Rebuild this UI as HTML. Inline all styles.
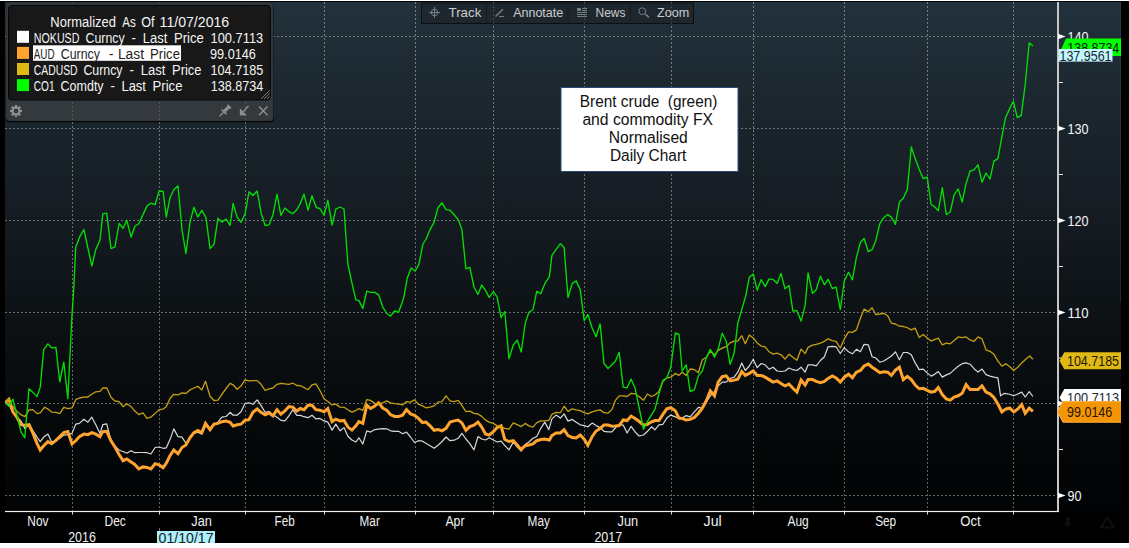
<!DOCTYPE html>
<html><head><meta charset="utf-8"><title>Chart</title>
<style>html,body{margin:0;padding:0;background:#000;overflow:hidden}body{width:1129px;height:548px;font-family:"Liberation Sans",sans-serif}</style>
</head><body>
<svg width="1129" height="548" viewBox="0 0 1129 548" font-family="Liberation Sans, sans-serif" style="display:block">
<defs>
<linearGradient id="bg" x1="0" y1="0" x2="0" y2="1">
<stop offset="0" stop-color="#22313c"/>
<stop offset="0.19" stop-color="#1c272f"/>
<stop offset="0.39" stop-color="#161d24"/>
<stop offset="0.585" stop-color="#0e1317"/>
<stop offset="0.743" stop-color="#090c0e"/>
<stop offset="0.88" stop-color="#040608"/>
<stop offset="1" stop-color="#020304"/>
</linearGradient>
</defs>
<rect x="0" y="0" width="1129" height="548" fill="#000"/>
<rect x="5" y="2" width="1116" height="510" fill="url(#bg)"/>
<rect x="1120" y="2" width="1" height="300" fill="#3a5060" opacity="0.35"/>
<rect x="0" y="0" width="1129" height="1" fill="#fff"/>
<rect x="0" y="543" width="1129" height="5" fill="#fff"/>
<g stroke="#f4fff8" stroke-opacity="0.38" stroke-width="1" stroke-dasharray="2 2" shape-rendering="crispEdges">
<line x1="72.5" y1="2" x2="72.5" y2="511"/>
<line x1="159.5" y1="2" x2="159.5" y2="511"/>
<line x1="245.5" y1="2" x2="245.5" y2="511"/>
<line x1="324.5" y1="2" x2="324.5" y2="511"/>
<line x1="415.5" y1="2" x2="415.5" y2="511"/>
<line x1="493.5" y1="2" x2="493.5" y2="511"/>
<line x1="584.5" y1="2" x2="584.5" y2="511"/>
<line x1="671.5" y1="2" x2="671.5" y2="511"/>
<line x1="753.5" y1="2" x2="753.5" y2="511"/>
<line x1="844.5" y1="2" x2="844.5" y2="511"/>
<line x1="927.5" y1="2" x2="927.5" y2="511"/>
<line x1="1013.5" y1="2" x2="1013.5" y2="511"/>
<line x1="5" y1="36.5" x2="1057" y2="36.5"/>
<line x1="5" y1="128.5" x2="1057" y2="128.5"/>
<line x1="5" y1="220.5" x2="1057" y2="220.5"/>
<line x1="5" y1="312.5" x2="1057" y2="312.5"/>
<line x1="5" y1="403.5" x2="1057" y2="403.5"/>
<line x1="5" y1="495.5" x2="1057" y2="495.5"/>
</g>
<path d="M5.5,402.8 L8.9,404.8 L12.9,412.3 L16.9,417.2 L20.9,421.0 L24.8,428.4 L29.0,424.7 L33.0,430.9 L37.0,437.1 L40.2,441.6 L43.7,437.1 L47.9,434.1 L51.6,442.1 L55.9,440.8 L59.8,438.3 L63.8,435.1 L67.8,434.6 L72.0,433.4 L75.7,424.2 L79.4,423.4 L83.9,419.2 L87.9,422.2 L91.8,417.2 L95.8,424.7 L100.0,433.4 L102.8,424.7 L106.7,423.9 L111.0,440.8 L114.9,445.8 L119.1,450.2 L123.1,451.5 L126.8,453.2 L131.1,450.7 L134.8,452.7 L138.8,452.5 L143.0,452.5 L147.0,452.7 L150.9,454.0 L155.1,447.5 L159.1,447.0 L163.1,448.3 L166.3,447.8 L170.0,439.6 L173.8,428.9 L178.0,436.6 L182.0,437.1 L185.9,443.3 L190.1,438.3 L193.9,433.4 L197.8,432.1 L201.8,434.1 L205.5,425.9 L210.0,428.4 L214.0,424.7 L217.9,422.2 L221.9,417.2 L226.1,416.5 L230.1,412.3 L233.1,415.2 L237.1,415.2 L241.0,411.8 L245.0,403.6 L249.0,402.8 L252.9,404.3 L257.2,399.9 L261.1,405.6 L265.1,412.3 L269.1,411.5 L273.0,414.7 L277.0,417.2 L280.9,420.4 L284.9,420.9 L288.9,415.9 L292.8,409.7 L296.8,415.4 L300.3,415.4 L304.0,416.7 L308.0,417.7 L312.0,415.2 L315.9,418.9 L319.9,418.4 L324.1,420.9 L327.8,422.1 L332.1,430.1 L335.8,424.1 L340.0,430.8 L344.0,427.6 L347.9,436.3 L351.9,440.0 L355.9,442.0 L358.9,437.8 L362.8,444.0 L366.8,430.8 L370.5,432.1 L374.8,429.6 L378.7,429.1 L382.7,428.6 L386.7,428.8 L390.6,430.8 L394.6,431.3 L398.6,431.3 L402.6,433.8 L406.5,432.1 L410.5,437.0 L414.5,442.5 L418.4,440.7 L422.4,441.2 L425.9,443.2 L430.1,445.7 L434.1,448.2 L438.0,445.2 L442.0,441.5 L446.0,437.0 L450.0,440.7 L454.2,440.2 L458.2,438.3 L461.9,433.3 L465.9,439.0 L469.8,443.7 L474.0,449.9 L478.0,436.5 L481.7,439.0 L485.5,440.0 L489.2,437.8 L493.4,440.0 L497.1,442.0 L501.1,441.2 L504.8,445.7 L509.0,449.9 L513.3,442.0 L517.2,447.0 L521.2,451.2 L525.2,444.5 L528.9,442.0 L532.9,438.3 L536.8,436.5 L540.8,428.3 L544.8,422.1 L548.8,429.6 L551.9,418.9 L556.1,415.1 L560.4,418.1 L564.1,413.9 L568.0,421.1 L572.3,419.4 L576.2,422.3 L580.2,424.8 L584.2,425.6 L587.9,426.8 L592.1,423.1 L596.1,425.6 L600.1,427.6 L604.0,431.3 L608.0,431.8 L612.0,431.8 L615.2,428.0 L619.2,424.3 L623.2,425.1 L627.1,433.0 L631.1,426.3 L635.1,431.8 L639.0,436.0 L643.5,435.0 L647.5,431.3 L651.5,426.8 L654.9,429.8 L658.9,424.8 L662.9,424.3 L666.8,418.1 L670.8,415.1 L675.3,416.9 L679.0,418.1 L682.2,418.1 L686.2,415.6 L690.2,416.9 L694.4,411.9 L698.4,407.4 L702.3,408.2 L706.3,402.0 L710.3,395.8 L714.5,391.3 L718.2,385.9 L722.2,382.1 L726.2,382.1 L730.1,378.4 L734.1,377.2 L737.8,372.2 L741.8,363.0 L745.3,370.5 L749.3,366.0 L753.2,359.3 L757.2,367.7 L761.2,363.5 L765.1,364.8 L769.1,369.2 L773.1,367.2 L777.1,371.0 L781.0,371.5 L785.0,371.0 L789.0,368.0 L792.9,369.7 L796.9,370.5 L801.1,367.2 L805.1,372.2 L808.1,364.8 L812.5,364.9 L816.2,365.9 L820.4,360.5 L824.4,356.7 L828.1,346.8 L832.3,346.3 L836.1,346.8 L840.3,353.5 L844.3,347.6 L848.5,351.8 L852.4,353.8 L856.4,349.3 L860.4,351.8 L864.1,344.3 L868.3,344.8 L872.1,356.7 L875.8,358.0 L879.8,362.2 L883.7,361.0 L887.7,358.5 L891.4,356.0 L895.4,351.8 L899.4,359.7 L903.3,352.5 L907.3,352.5 L911.3,354.8 L915.2,362.9 L919.2,369.6 L923.2,369.1 L927.2,372.9 L931.1,376.1 L934.9,374.1 L938.3,371.6 L942.3,377.1 L946.3,374.9 L950.2,373.4 L954.2,369.6 L958.2,366.2 L962.2,363.7 L966.1,362.9 L970.1,364.2 L974.1,368.7 L978.0,372.1 L982.0,369.1 L986.0,374.6 L990.0,376.1 L993.9,377.1 L997.9,377.8 L1000.6,395.8 L1004.4,393.3 L1008.6,394.0 L1013.8,395.8 L1017.8,394.0 L1021.7,392.1 L1025.2,397.0 L1029.2,391.6 L1032.9,396.5" fill="none" stroke="#d8d8d8" stroke-width="1.2" stroke-linejoin="round"/>
<path d="M5.5,402.3 L8.9,399.4 L12.9,411.8 L16.9,417.2 L20.9,424.7 L24.8,425.2 L29.0,424.7 L33.0,433.4 L37.0,443.3 L40.2,450.0 L43.7,445.8 L47.9,441.6 L51.6,443.8 L55.9,440.3 L59.8,436.6 L63.8,432.6 L67.8,431.6 L72.0,444.0 L75.7,440.8 L79.4,436.6 L83.9,434.1 L87.9,434.6 L91.8,432.6 L95.8,434.1 L100.0,436.6 L102.8,431.6 L106.7,431.4 L111.0,440.8 L114.9,447.0 L119.1,454.5 L123.1,460.7 L126.8,458.9 L131.1,461.9 L134.8,464.4 L138.8,468.9 L143.0,466.9 L147.0,467.4 L150.9,468.9 L155.1,463.7 L159.1,464.9 L163.1,467.6 L166.3,463.2 L170.0,455.7 L173.8,450.0 L178.0,453.7 L182.0,447.5 L185.9,445.0 L190.1,437.6 L193.9,432.6 L197.8,430.4 L201.8,432.6 L205.5,423.4 L210.0,429.6 L214.0,424.2 L217.9,423.4 L221.9,421.7 L226.1,421.0 L230.1,422.2 L233.1,425.9 L237.1,424.7 L241.0,424.2 L245.0,420.2 L249.0,419.7 L252.9,412.3 L257.2,409.0 L261.1,412.3 L265.1,414.8 L269.1,413.0 L273.0,415.9 L277.0,409.7 L280.9,414.2 L284.9,411.0 L288.9,406.5 L292.8,407.2 L296.8,411.0 L300.3,408.5 L304.0,409.7 L308.0,405.2 L312.0,405.2 L315.9,409.7 L319.9,410.2 L324.1,411.7 L327.8,408.5 L332.1,421.6 L335.8,419.1 L340.0,420.9 L344.0,420.4 L347.9,427.1 L351.9,430.1 L355.9,425.9 L358.9,421.6 L362.8,423.4 L366.8,405.2 L370.5,408.5 L374.8,406.0 L378.7,402.8 L382.7,408.0 L386.7,410.2 L390.6,414.7 L394.6,416.4 L398.6,416.4 L402.6,415.2 L406.5,409.7 L410.5,413.9 L414.5,415.4 L418.4,418.4 L422.4,422.6 L425.9,422.1 L430.1,425.9 L434.1,430.3 L438.0,429.6 L442.0,430.8 L446.0,428.3 L450.0,422.1 L454.2,420.9 L458.2,420.1 L461.9,422.9 L465.9,430.3 L469.8,426.6 L474.0,425.1 L478.0,422.1 L481.7,427.1 L485.5,434.0 L489.2,435.0 L493.4,431.6 L497.1,427.6 L501.1,425.9 L504.8,439.5 L509.0,441.5 L513.3,440.7 L517.2,445.0 L521.2,449.4 L525.2,445.7 L528.9,445.0 L532.9,444.0 L536.8,440.7 L540.8,439.5 L544.8,439.0 L545.5,439.2 L549.4,440.0 L551.9,435.5 L556.1,433.0 L560.4,433.0 L564.1,429.8 L568.0,435.5 L572.3,437.5 L576.2,438.0 L580.2,435.0 L584.2,439.2 L587.9,445.4 L592.1,436.7 L596.1,431.0 L600.1,428.5 L604.0,425.1 L608.0,425.1 L612.0,426.3 L615.2,426.1 L619.2,425.6 L623.2,419.9 L627.1,420.6 L631.1,416.1 L635.1,418.6 L639.0,421.3 L643.5,425.1 L647.5,424.3 L651.5,421.8 L654.9,420.6 L658.9,420.6 L662.9,414.4 L666.8,408.9 L670.8,407.7 L675.3,410.7 L679.0,418.1 L682.2,418.6 L686.2,419.9 L690.2,419.4 L694.4,417.4 L698.4,413.2 L702.3,408.2 L706.3,400.7 L710.3,390.8 L714.5,395.8 L718.2,382.1 L722.2,376.7 L726.2,375.9 L730.1,380.9 L734.1,380.1 L737.8,379.1 L741.8,371.5 L745.3,375.4 L749.3,373.4 L753.2,371.0 L757.2,375.4 L761.2,375.4 L765.1,377.2 L769.1,379.6 L773.1,382.1 L777.1,380.9 L781.0,383.4 L785.0,385.9 L789.0,384.1 L792.9,388.3 L796.9,392.1 L801.1,380.1 L805.1,385.1 L808.1,379.6 L812.5,379.6 L816.2,381.4 L820.4,382.6 L824.4,381.4 L828.1,378.4 L832.3,375.9 L836.1,377.9 L840.3,382.1 L844.3,377.2 L848.5,374.2 L852.4,377.7 L856.4,372.2 L860.4,370.5 L864.1,366.0 L868.3,364.0 L872.1,367.2 L875.8,369.7 L879.8,372.7 L883.7,371.7 L887.7,372.2 L891.4,375.4 L895.4,370.2 L899.4,367.2 L903.3,379.6 L907.3,376.4 L911.3,379.6 L915.2,385.1 L919.2,388.8 L923.2,388.3 L927.2,390.3 L931.1,392.1 L934.9,391.3 L938.3,387.6 L942.3,394.5 L946.3,399.0 L950.2,400.2 L954.2,397.0 L958.2,395.8 L962.2,393.3 L966.1,384.6 L970.1,389.6 L974.1,389.6 L978.0,389.6 L982.0,385.9 L986.0,392.1 L990.0,393.8 L993.9,397.5 L997.9,404.0 L1001.9,411.9 L1005.9,408.9 L1009.8,408.2 L1013.8,411.9 L1017.8,408.9 L1021.7,404.5 L1025.2,413.2 L1029.2,408.2 L1032.9,411.4" fill="none" stroke="#ffa42e" stroke-width="3" stroke-linejoin="miter" stroke-miterlimit="3" stroke-linecap="butt"/>
<path d="M5.5,402.9 L8.9,398.0 L11.2,404.2 L14.9,409.1 L19.9,414.1 L24.8,416.6 L29.0,409.9 L33.0,409.6 L37.0,413.6 L40.2,412.9 L44.7,407.2 L47.9,409.1 L51.6,412.1 L55.9,412.4 L59.8,413.6 L63.8,407.4 L67.8,408.7 L72.0,407.9 L75.7,399.7 L79.4,398.0 L83.9,397.2 L87.9,397.0 L91.8,394.3 L95.8,391.8 L100.0,391.3 L102.8,388.0 L106.7,387.8 L111.0,397.2 L114.9,401.0 L119.1,401.7 L123.1,406.7 L126.8,403.7 L131.1,406.7 L134.8,411.1 L138.8,414.6 L143.0,412.9 L147.0,418.3 L150.9,417.1 L155.1,413.4 L159.1,409.6 L163.1,409.1 L166.3,406.7 L170.0,398.5 L173.8,394.3 L178.0,394.8 L182.0,392.8 L185.9,393.5 L190.1,389.8 L193.9,388.0 L197.8,386.3 L201.8,390.0 L205.5,381.3 L210.0,396.2 L214.0,400.5 L217.9,400.2 L221.9,394.3 L226.1,388.5 L230.1,383.3 L233.1,384.8 L237.1,389.3 L241.0,386.1 L245.0,379.9 L249.0,380.9 L252.9,380.6 L257.2,380.6 L261.1,384.3 L265.1,390.5 L269.1,388.8 L273.0,388.0 L277.0,384.3 L280.9,383.3 L284.9,383.8 L288.9,384.3 L292.8,383.0 L296.8,385.5 L300.3,385.7 L304.0,387.5 L308.0,389.7 L312.0,384.8 L315.9,383.8 L319.9,390.5 L324.1,398.7 L327.8,401.6 L332.1,404.9 L335.8,404.1 L340.0,407.1 L344.0,407.3 L347.9,409.8 L351.9,412.1 L355.9,410.3 L358.9,408.6 L362.8,410.3 L366.8,399.6 L370.5,400.4 L374.8,403.4 L378.7,403.6 L382.7,402.9 L386.7,400.9 L390.6,402.9 L394.6,403.6 L398.6,404.1 L402.6,404.9 L406.5,401.6 L410.5,402.1 L414.5,399.9 L418.4,404.1 L422.4,405.9 L425.9,407.8 L430.1,407.1 L434.1,405.9 L438.0,402.1 L442.0,401.6 L446.0,395.9 L450.0,400.9 L454.2,401.6 L458.2,400.4 L461.9,405.4 L465.9,411.6 L469.8,411.1 L474.0,413.3 L478.0,414.0 L481.7,416.4 L485.5,420.1 L489.2,422.1 L493.4,423.4 L497.1,425.9 L501.1,426.6 L504.8,428.3 L509.0,429.1 L513.3,422.9 L517.2,424.6 L521.2,426.6 L525.2,423.4 L528.9,425.9 L532.9,427.1 L536.8,422.6 L540.8,420.9 L544.8,420.9 L548.8,420.4 L551.9,414.4 L556.1,412.4 L560.4,412.7 L564.1,406.2 L568.0,411.4 L572.3,408.9 L576.2,409.9 L580.2,410.7 L584.2,412.7 L587.9,413.9 L592.1,411.9 L596.1,410.7 L600.1,409.9 L604.0,412.7 L608.0,413.2 L612.0,409.4 L615.2,400.7 L619.2,395.8 L623.2,395.8 L627.1,396.5 L631.1,393.3 L635.1,393.8 L639.0,396.5 L643.5,400.2 L647.5,394.0 L651.5,396.5 L654.9,395.0 L658.9,391.6 L662.9,381.6 L666.8,377.9 L670.8,377.2 L675.3,373.4 L679.0,375.4 L682.2,372.2 L686.2,375.4 L690.2,369.0 L694.4,369.7 L698.4,372.7 L702.3,359.8 L706.3,357.3 L710.3,351.1 L714.5,354.8 L718.2,350.4 L722.2,348.1 L726.2,346.6 L730.1,342.9 L734.1,341.2 L737.8,341.2 L741.8,335.7 L745.3,343.7 L749.3,335.0 L753.2,337.9 L757.2,342.9 L761.2,346.1 L765.1,346.9 L769.1,351.8 L773.1,354.1 L777.1,353.1 L781.0,354.8 L785.0,359.0 L789.0,354.3 L792.9,357.3 L796.9,360.3 L801.1,349.1 L805.1,353.6 L808.1,347.4 L812.5,345.1 L816.2,344.3 L820.4,343.1 L824.4,341.3 L828.1,338.9 L832.3,340.6 L836.1,341.3 L840.3,348.0 L844.3,338.9 L848.5,331.9 L852.4,332.4 L856.4,329.9 L860.4,318.3 L864.1,309.1 L868.3,311.6 L872.1,307.8 L875.8,314.5 L879.8,314.0 L883.7,313.3 L887.7,315.8 L891.4,323.2 L895.4,324.0 L899.4,326.2 L903.3,326.5 L907.3,327.7 L911.3,329.9 L915.2,328.2 L919.2,337.6 L923.2,334.4 L927.2,338.1 L931.1,341.1 L934.9,339.4 L938.3,338.1 L942.3,344.8 L946.3,343.1 L950.2,343.8 L954.2,340.6 L958.2,336.9 L962.2,337.6 L966.1,336.9 L970.1,339.9 L974.1,341.3 L978.0,336.9 L982.0,338.9 L986.0,349.8 L990.0,351.3 L993.9,354.3 L997.9,361.2 L1001.9,366.2 L1005.9,363.7 L1009.8,366.7 L1013.8,370.4 L1017.8,367.2 L1021.7,362.9 L1025.7,359.2 L1029.7,356.0 L1032.9,359.2" fill="none" stroke="#c4a012" stroke-width="1.3" stroke-linejoin="round"/>
<path d="M5.5,402.9 L8.9,406.2 L12.9,399.2 L16.9,414.8 L20.9,431.6 L24.8,437.8 L29.0,388.7 L33.0,392.4 L37.0,396.6 L40.2,387.4 L43.7,349.6 L47.9,343.9 L51.6,347.8 L55.9,347.3 L59.8,381.8 L63.8,362.2 L67.8,398.7 L72.0,314.8 L73.7,290.0 L75.7,247.4 L79.4,237.4 L83.9,229.5 L91.8,266.2 L95.8,249.4 L100.0,239.9 L102.8,213.9 L106.7,213.1 L111.0,248.6 L114.9,246.9 L119.1,223.5 L123.1,228.3 L126.8,220.3 L131.1,237.2 L134.8,226.3 L138.8,223.8 L147.0,205.9 L150.9,203.2 L155.1,204.7 L159.1,191.0 L163.1,191.5 L166.3,217.1 L170.0,197.7 L173.8,189.8 L178.0,185.8 L182.0,229.5 L185.9,253.3 L190.1,221.6 L193.9,207.2 L197.8,217.1 L201.8,210.4 L206.0,217.6 L210.0,248.6 L214.0,244.4 L217.9,218.3 L221.9,222.1 L226.1,219.1 L230.1,225.3 L233.1,203.4 L237.1,217.1 L241.0,222.3 L245.0,214.1 L249.0,191.8 L252.9,195.5 L257.2,191.0 L261.1,212.9 L265.1,225.5 L269.1,224.8 L273.0,214.7 L277.0,194.1 L280.9,215.4 L284.9,208.0 L288.9,211.7 L292.8,213.7 L296.8,209.7 L300.3,203.5 L304.0,194.1 L308.0,210.2 L312.0,195.8 L316.4,207.7 L319.9,208.5 L324.1,215.4 L327.8,200.3 L332.1,225.1 L335.8,209.2 L340.0,207.0 L344.0,209.0 L347.9,264.3 L351.9,282.9 L355.9,299.9 L358.9,300.6 L362.8,308.5 L366.8,291.2 L370.5,292.4 L374.8,292.4 L378.7,294.9 L382.7,306.8 L386.7,313.5 L390.6,316.0 L394.6,311.0 L398.6,312.3 L402.6,301.1 L404.0,296.6 L407.3,278.0 L411.2,268.0 L415.2,271.0 L418.9,264.3 L422.9,244.0 L425.9,239.5 L430.1,229.6 L434.1,222.1 L438.0,207.7 L442.0,202.8 L446.0,209.7 L450.0,210.2 L454.2,214.7 L458.2,219.6 L461.9,229.6 L465.9,268.8 L469.8,267.3 L474.0,287.0 L478.0,294.4 L481.7,285.0 L485.5,290.4 L489.2,297.4 L493.4,291.7 L497.1,296.9 L501.1,317.7 L504.8,311.5 L509.0,358.9 L513.3,345.0 L517.2,340.1 L521.2,352.0 L525.2,323.4 L528.9,312.3 L532.9,309.8 L536.8,291.2 L540.8,293.7 L544.8,283.7 L549.4,276.7 L551.9,255.3 L556.1,249.4 L560.4,243.7 L564.1,247.4 L568.0,297.5 L572.3,283.4 L576.2,280.9 L580.2,289.6 L584.2,320.6 L587.9,314.4 L592.1,328.0 L596.1,336.7 L600.1,323.8 L604.0,363.5 L608.0,368.5 L615.2,361.5 L619.2,352.3 L623.2,387.1 L627.1,387.8 L631.1,379.1 L635.1,388.3 L639.0,407.0 L643.5,429.3 L647.5,421.3 L654.9,409.4 L658.9,394.0 L662.9,380.4 L666.8,377.9 L670.8,367.2 L675.3,333.0 L679.0,334.5 L682.2,371.0 L686.2,364.8 L690.2,391.6 L694.4,389.6 L698.4,375.9 L702.3,371.0 L706.3,357.8 L710.3,349.4 L714.5,357.3 L718.2,349.1 L722.2,333.2 L726.2,341.2 L730.1,364.3 L734.1,353.6 L737.8,323.1 L741.8,309.4 L745.8,295.8 L749.3,277.2 L753.2,273.9 L757.2,290.3 L761.2,279.6 L765.1,286.6 L769.1,278.9 L773.1,279.6 L777.1,283.4 L781.0,273.4 L785.0,288.8 L789.0,285.4 L792.9,311.2 L796.9,310.7 L801.1,321.1 L805.1,305.7 L808.1,272.9 L812.5,293.4 L816.2,289.7 L820.4,276.1 L824.4,284.8 L828.1,279.3 L832.3,288.5 L836.1,287.2 L840.3,309.6 L844.3,281.0 L848.5,272.3 L852.4,279.8 L856.4,257.4 L860.4,242.5 L864.1,238.5 L868.3,251.7 L872.1,249.7 L875.8,240.5 L879.8,223.7 L883.7,217.7 L887.7,214.5 L891.4,217.4 L895.4,224.4 L899.4,202.1 L903.3,198.3 L907.3,189.6 L911.3,147.0 L915.2,158.6 L919.2,169.3 L923.2,178.5 L927.2,177.2 L931.1,204.5 L934.9,207.0 L938.3,210.7 L942.3,187.7 L946.3,214.5 L950.2,212.0 L954.2,194.6 L958.2,188.9 L962.2,202.1 L966.1,183.4 L970.1,171.0 L974.1,169.8 L978.0,164.8 L982.0,182.2 L986.0,173.0 L990.0,179.0 L993.9,161.1 L997.9,158.6 L1001.9,136.7 L1005.4,118.0 L1009.3,109.4 L1013.3,101.2 L1017.3,117.6 L1021.2,115.6 L1025.2,84.5 L1029.2,42.8 L1032.9,46.1" fill="none" stroke="#04de04" stroke-width="1.35" stroke-linejoin="round"/>
<rect x="1057" y="2" width="2" height="510" fill="#c6c6c6"/>
<rect x="5" y="510.9" width="1054" height="1.2" fill="#f0f0f0"/>
<rect x="72.0" y="511" width="1" height="3.6" fill="#e0e0e0"/>
<rect x="159.0" y="511" width="1" height="3.6" fill="#e0e0e0"/>
<rect x="245.0" y="511" width="1" height="3.6" fill="#e0e0e0"/>
<rect x="324.0" y="511" width="1" height="3.6" fill="#e0e0e0"/>
<rect x="415.0" y="511" width="1" height="3.6" fill="#e0e0e0"/>
<rect x="493.0" y="511" width="1" height="3.6" fill="#e0e0e0"/>
<rect x="584.0" y="511" width="1" height="3.6" fill="#e0e0e0"/>
<rect x="671.0" y="511" width="1" height="3.6" fill="#e0e0e0"/>
<rect x="753.0" y="511" width="1" height="3.6" fill="#e0e0e0"/>
<rect x="844.0" y="511" width="1" height="3.6" fill="#e0e0e0"/>
<rect x="927.0" y="511" width="1" height="3.6" fill="#e0e0e0"/>
<rect x="1013.0" y="511" width="1" height="3.6" fill="#e0e0e0"/>
<path d="M1058,33.8 L1065.6,36.5 L1058,39.2 Z" fill="#fff"/>
<text x="1067.6" y="42.2" font-size="14.2" fill="#f4f4f4" textLength="21" lengthAdjust="spacingAndGlyphs" >140</text>
<path d="M1058,125.8 L1065.6,128.5 L1058,131.2 Z" fill="#fff"/>
<text x="1067.6" y="134.2" font-size="14.2" fill="#f4f4f4" textLength="21" lengthAdjust="spacingAndGlyphs" >130</text>
<path d="M1058,217.8 L1065.6,220.5 L1058,223.2 Z" fill="#fff"/>
<text x="1067.6" y="226.2" font-size="14.2" fill="#f4f4f4" textLength="21" lengthAdjust="spacingAndGlyphs" >120</text>
<path d="M1058,309.8 L1065.6,312.5 L1058,315.2 Z" fill="#fff"/>
<text x="1067.6" y="318.2" font-size="14.2" fill="#f4f4f4" textLength="21" lengthAdjust="spacingAndGlyphs" >110</text>
<path d="M1058,400.8 L1065.6,403.5 L1058,406.2 Z" fill="#fff"/>
<path d="M1058,492.8 L1065.6,495.5 L1058,498.2 Z" fill="#fff"/>
<text x="1067.6" y="501.2" font-size="14.2" fill="#f4f4f4" textLength="14" lengthAdjust="spacingAndGlyphs" >90</text>
<rect x="1059" y="82.0" width="4" height="1" fill="#ddd"/>
<rect x="1059" y="174.0" width="4" height="1" fill="#ddd"/>
<rect x="1059" y="266.0" width="4" height="1" fill="#ddd"/>
<rect x="1059" y="357.5" width="4" height="1" fill="#ddd"/>
<rect x="1059" y="449.0" width="4" height="1" fill="#ddd"/>
<g fill="#0f0f0f"><rect x="1066" y="517" width="3.4" height="6.5"/><path d="M1063.6,523 L1071.6,523 L1067.6,528 Z"/></g>
<g fill="none" stroke="#0f0f0f" stroke-width="2.2" stroke-linejoin="round"><path d="M1107.5,517.5 L1114,527.5 L1101,527.5 Z"/></g>
<text x="27.3" y="526.3" font-size="14" fill="#f0f0f0" textLength="21.2" lengthAdjust="spacingAndGlyphs" >Nov</text>
<text x="104.5" y="526.3" font-size="14" fill="#f0f0f0" textLength="21.3" lengthAdjust="spacingAndGlyphs" >Dec</text>
<text x="191.3" y="526.3" font-size="14" fill="#f0f0f0" textLength="20.6" lengthAdjust="spacingAndGlyphs" >Jan</text>
<text x="274.6" y="526.3" font-size="14" fill="#f0f0f0" textLength="20.2" lengthAdjust="spacingAndGlyphs" >Feb</text>
<text x="359.6" y="526.3" font-size="14" fill="#f0f0f0" textLength="20.2" lengthAdjust="spacingAndGlyphs" >Mar</text>
<text x="445.4" y="526.3" font-size="14" fill="#f0f0f0" textLength="19.1" lengthAdjust="spacingAndGlyphs" >Apr</text>
<text x="527.5" y="526.3" font-size="14" fill="#f0f0f0" textLength="22.4" lengthAdjust="spacingAndGlyphs" >May</text>
<text x="617.5" y="526.3" font-size="14" fill="#f0f0f0" textLength="20.6" lengthAdjust="spacingAndGlyphs" >Jun</text>
<text x="703.6" y="526.3" font-size="14" fill="#f0f0f0" textLength="18.1" lengthAdjust="spacingAndGlyphs" >Jul</text>
<text x="787.5" y="526.3" font-size="14" fill="#f0f0f0" textLength="21.2" lengthAdjust="spacingAndGlyphs" >Aug</text>
<text x="875.2" y="526.3" font-size="14" fill="#f0f0f0" textLength="21" lengthAdjust="spacingAndGlyphs" >Sep</text>
<text x="960.3" y="526.3" font-size="14" fill="#f0f0f0" textLength="20.4" lengthAdjust="spacingAndGlyphs" >Oct</text>
<text x="68.2" y="542.4" font-size="14.4" fill="#f0f0f0" textLength="27.7" lengthAdjust="spacingAndGlyphs" >2016</text>
<text x="594.4" y="542.4" font-size="14.4" fill="#f0f0f0" textLength="27.9" lengthAdjust="spacingAndGlyphs" >2017</text>
<rect x="159" y="528" width="1" height="3" fill="#666"/>
<rect x="157" y="531" width="58" height="12" fill="#aef0fa"/>
<text x="158.6" y="543.2" font-size="14.2" fill="#182028" textLength="55" lengthAdjust="spacingAndGlyphs" >01/10/17</text>
<rect x="0" y="543" width="1129" height="5" fill="#fff"/>
<path d="M1058,56 L1066,38.5 L1121,38.5 L1121,56 Z" fill="#00ff00"/>
<text x="1067.3" y="52.8" font-size="14.5" fill="#062006" textLength="52" lengthAdjust="spacingAndGlyphs" >138.8734</text>
<rect x="1058.5" y="49" width="54" height="12.6" fill="#c4f6ff"/>
<text x="1059.5" y="60.5" font-size="14.5" fill="#20282c" textLength="52" lengthAdjust="spacingAndGlyphs" >137.9561</text>
<path d="M1059.5,360.7 L1064.3,352.3 L1121,352.3 L1121,369.2 L1064.3,369.2 Z" fill="#e0b915"/>
<text x="1067" y="366" font-size="14.5" fill="#1c1800" textLength="52" lengthAdjust="spacingAndGlyphs" >104.7185</text>
<path d="M1059.5,397.5 L1064.3,388.9 L1121,388.9 L1121,406 L1064.3,406 Z" fill="#ffffff"/>
<text x="1067" y="402.9" font-size="14.5" fill="#202830" textLength="52" lengthAdjust="spacingAndGlyphs" >100.7113</text>
<path d="M1057.2,411.8 L1062.7,401.1 L1121,401.1 L1121,422.6 L1062.7,422.6 Z" fill="#f49508"/>
<path d="M1057.7,411.8 L1063,401.6 L1121,401.6 M1057.7,411.8 L1063,422.1 L1121,422.1" fill="none" stroke="#ffb040" stroke-width="1"/>
<text x="1067" y="417.2" font-size="14.5" fill="#241400" textLength="45.3" lengthAdjust="spacingAndGlyphs" >99.0146</text>
<rect x="421.5" y="3" width="272" height="20.5" fill="#1f272e" stroke="#0c1013" stroke-width="1"/>
<rect x="486.0" y="3.5" width="1" height="19.5" fill="#151b20"/>
<rect x="567.5" y="3.5" width="1" height="19.5" fill="#151b20"/>
<rect x="630.0" y="3.5" width="1" height="19.5" fill="#151b20"/>
<g stroke="#979a98" stroke-width="1" stroke-dasharray="2 2" shape-rendering="crispEdges" opacity="0.3"><line x1="493.5" y1="2" x2="493.5" y2="24"/><line x1="584.5" y1="2" x2="584.5" y2="24"/><line x1="671.5" y1="2" x2="671.5" y2="24"/></g>
<text x="448.5" y="16.7" font-size="13" fill="#c9ccd0" textLength="32.8" lengthAdjust="spacingAndGlyphs" >Track</text>
<text x="513.2" y="16.7" font-size="13" fill="#c9ccd0" textLength="50" lengthAdjust="spacingAndGlyphs" >Annotate</text>
<text x="595.5" y="16.7" font-size="13" fill="#c9ccd0" textLength="29.9" lengthAdjust="spacingAndGlyphs" >News</text>
<text x="657" y="16.7" font-size="13" fill="#c9ccd0" textLength="32.2" lengthAdjust="spacingAndGlyphs" >Zoom</text>
<g stroke="#767e85" stroke-width="1" fill="none"><circle cx="434.5" cy="12.5" r="3.2"/><line x1="429" y1="12.5" x2="440" y2="12.5"/><line x1="434.5" y1="7" x2="434.5" y2="18"/></g>
<g stroke="#767e85" fill="none"><line x1="495.5" y1="16.5" x2="503" y2="9.3" stroke-width="1.5"/><line x1="499" y1="16.5" x2="504" y2="16.5" stroke-width="1"/></g>
<g fill="#767e85" shape-rendering="crispEdges"><rect x="577" y="8" width="4" height="3"/><rect x="582" y="8" width="5" height="1"/><rect x="582" y="10" width="5" height="1"/><rect x="577" y="12" width="10" height="1"/><rect x="577" y="14" width="10" height="1"/><rect x="577" y="16" width="10" height="1"/></g>
<g stroke="#767e85" fill="none"><circle cx="642.3" cy="11.2" r="3.4" stroke-width="1"/><line x1="645.3" y1="14.2" x2="649" y2="17.3" stroke-width="1.7"/></g>
<rect x="561" y="87.5" width="177" height="84" fill="#fff" stroke="#2c4a78" stroke-width="1"/>
<text x="579.8" y="106.9" font-size="16" fill="#101010" textLength="137.6" lengthAdjust="spacingAndGlyphs" >Brent crude &#160;(green)</text>
<text x="582.4" y="124.6" font-size="16" fill="#101010" textLength="130.6" lengthAdjust="spacingAndGlyphs" >and commodity FX</text>
<text x="608.8" y="143" font-size="16" fill="#101010" textLength="79" lengthAdjust="spacingAndGlyphs" >Normalised</text>
<text x="609.9" y="161" font-size="16" fill="#101010" textLength="76.5" lengthAdjust="spacingAndGlyphs" >Daily Chart</text>
<rect x="6" y="3" width="268" height="119.3" rx="3.5" fill="#000" opacity="0.8"/>
<rect x="6.5" y="3" width="266.5" height="117.5" rx="3" fill="#34393d" stroke="#2c3439" stroke-width="1"/>
<rect x="8.5" y="5.5" width="262" height="94.5" rx="3" fill="#181818" stroke="#060606" stroke-width="1"/>
<g stroke="#979a98" stroke-width="1" stroke-dasharray="2 2" shape-rendering="crispEdges" opacity="0.3"><line x1="72.5" y1="102" x2="72.5" y2="120"/><line x1="159.5" y1="102" x2="159.5" y2="120"/><line x1="245.5" y1="102" x2="245.5" y2="120"/></g>
<text x="50.3" y="26.6" font-size="14" fill="#f4f4f4" textLength="65.7" lengthAdjust="spacingAndGlyphs" >Normalized</text>
<text x="122.3" y="26.6" font-size="14" fill="#f4f4f4" textLength="13.5" lengthAdjust="spacingAndGlyphs" >As</text>
<text x="141.3" y="26.6" font-size="14" fill="#f4f4f4" textLength="13.3" lengthAdjust="spacingAndGlyphs" >Of</text>
<text x="159.6" y="26.6" font-size="14" fill="#f4f4f4" textLength="69.6" lengthAdjust="spacingAndGlyphs" >11/07/2016</text>
<rect x="17" y="30.799999999999997" width="12" height="12" fill="#ffffff"/>
<text x="33.8" y="42.8" font-size="14" fill="#f4f4f4" textLength="45.6" lengthAdjust="spacingAndGlyphs" >NOKUSD</text>
<text x="85.6" y="42.8" font-size="14" fill="#f4f4f4" textLength="39.1" lengthAdjust="spacingAndGlyphs" >Curncy</text>
<text x="131.6" y="42.8" font-size="14" fill="#f4f4f4" textLength="4.4" lengthAdjust="spacingAndGlyphs" >-</text>
<text x="142.7" y="42.8" font-size="14" fill="#f4f4f4" textLength="24.6" lengthAdjust="spacingAndGlyphs" >Last</text>
<text x="174" y="42.8" font-size="14" fill="#f4f4f4" textLength="29.9" lengthAdjust="spacingAndGlyphs" >Price</text>
<text x="210.6" y="42.8" font-size="14" fill="#f4f4f4" textLength="52.6" lengthAdjust="spacingAndGlyphs" >100.7113</text>
<rect x="17" y="46.9" width="12" height="12" fill="#ffa42e"/>
<rect x="33" y="45.3" width="148" height="15.5" fill="#fff"/>
<text x="33.8" y="58.9" font-size="14" fill="#222" textLength="20.8" lengthAdjust="spacingAndGlyphs" >AUD</text>
<text x="60.8" y="58.9" font-size="14" fill="#222" textLength="39.1" lengthAdjust="spacingAndGlyphs" >Curncy</text>
<text x="109" y="58.9" font-size="14" fill="#222" textLength="4.4" lengthAdjust="spacingAndGlyphs" >-</text>
<text x="117.9" y="58.9" font-size="14" fill="#222" textLength="26.1" lengthAdjust="spacingAndGlyphs" >Last</text>
<text x="150" y="58.9" font-size="14" fill="#222" textLength="30" lengthAdjust="spacingAndGlyphs" >Price</text>
<text x="210" y="58.9" font-size="14" fill="#f4f4f4" textLength="45.9" lengthAdjust="spacingAndGlyphs" >99.0146</text>
<rect x="17" y="63.0" width="12" height="12" fill="#e0b915"/>
<text x="33.8" y="75.0" font-size="14" fill="#f4f4f4" textLength="43.8" lengthAdjust="spacingAndGlyphs" >CADUSD</text>
<text x="83.4" y="75.0" font-size="14" fill="#f4f4f4" textLength="39.1" lengthAdjust="spacingAndGlyphs" >Curncy</text>
<text x="129.4" y="75.0" font-size="14" fill="#f4f4f4" textLength="4.4" lengthAdjust="spacingAndGlyphs" >-</text>
<text x="140.7" y="75.0" font-size="14" fill="#f4f4f4" textLength="24.6" lengthAdjust="spacingAndGlyphs" >Last</text>
<text x="172" y="75.0" font-size="14" fill="#f4f4f4" textLength="29.5" lengthAdjust="spacingAndGlyphs" >Price</text>
<text x="210.6" y="75.0" font-size="14" fill="#f4f4f4" textLength="52.6" lengthAdjust="spacingAndGlyphs" >104.7185</text>
<rect x="17" y="79.1" width="12" height="12" fill="#00ff00"/>
<text x="33.8" y="91.1" font-size="14" fill="#f4f4f4" textLength="20.8" lengthAdjust="spacingAndGlyphs" >CO1</text>
<text x="60.6" y="91.1" font-size="14" fill="#f4f4f4" textLength="43.0" lengthAdjust="spacingAndGlyphs" >Comdty</text>
<text x="110.5" y="91.1" font-size="14" fill="#f4f4f4" textLength="4.4" lengthAdjust="spacingAndGlyphs" >-</text>
<text x="121.4" y="91.1" font-size="14" fill="#f4f4f4" textLength="24.6" lengthAdjust="spacingAndGlyphs" >Last</text>
<text x="152.5" y="91.1" font-size="14" fill="#f4f4f4" textLength="30.0" lengthAdjust="spacingAndGlyphs" >Price</text>
<text x="210.8" y="91.1" font-size="14" fill="#f4f4f4" textLength="52.6" lengthAdjust="spacingAndGlyphs" >138.8734</text>
<g stroke="#777" stroke-width="1"><line x1="261" y1="99" x2="269.5" y2="90.5"/><line x1="264" y1="99" x2="269.5" y2="93.5"/><line x1="267" y1="99" x2="269.5" y2="96.5"/></g>
<line x1="19.00" y1="111.00" x2="22.00" y2="111.00" stroke="#8c9093" stroke-width="2.4"/><line x1="18.12" y1="113.12" x2="20.24" y2="115.24" stroke="#8c9093" stroke-width="2.4"/><line x1="16.00" y1="114.00" x2="16.00" y2="117.00" stroke="#8c9093" stroke-width="2.4"/><line x1="13.88" y1="113.12" x2="11.76" y2="115.24" stroke="#8c9093" stroke-width="2.4"/><line x1="13.00" y1="111.00" x2="10.00" y2="111.00" stroke="#8c9093" stroke-width="2.4"/><line x1="13.88" y1="108.88" x2="11.76" y2="106.76" stroke="#8c9093" stroke-width="2.4"/><line x1="16.00" y1="108.00" x2="16.00" y2="105.00" stroke="#8c9093" stroke-width="2.4"/><line x1="18.12" y1="108.88" x2="20.24" y2="106.76" stroke="#8c9093" stroke-width="2.4"/><circle cx="16" cy="111" r="3.4" fill="none" stroke="#8c9093" stroke-width="2"/>
<g stroke="#8c9093" fill="none" stroke-linecap="butt"><line x1="227.4" y1="104.8" x2="231" y2="108.4" stroke-width="1.6"/><line x1="229.4" y1="106.4" x2="224.6" y2="111.2" stroke-width="3.3"/><line x1="221.6" y1="109.6" x2="226.6" y2="114.2" stroke-width="1.8"/><line x1="224.2" y1="111.8" x2="219.6" y2="116.2" stroke-width="1.2"/></g>
<g stroke="#8c9093" fill="#8c9093"><line x1="248.5" y1="106" x2="242" y2="113" stroke-width="1.4"/><path d="M240,108.5 L240,115.2 L246.5,115.2 Z" stroke-width="0.3"/></g>
<g stroke="#8c9093" stroke-width="1.4"><line x1="259" y1="106.5" x2="267.5" y2="115.2"/><line x1="267.5" y1="106.5" x2="259" y2="115.2"/></g>
</svg>
</body></html>
